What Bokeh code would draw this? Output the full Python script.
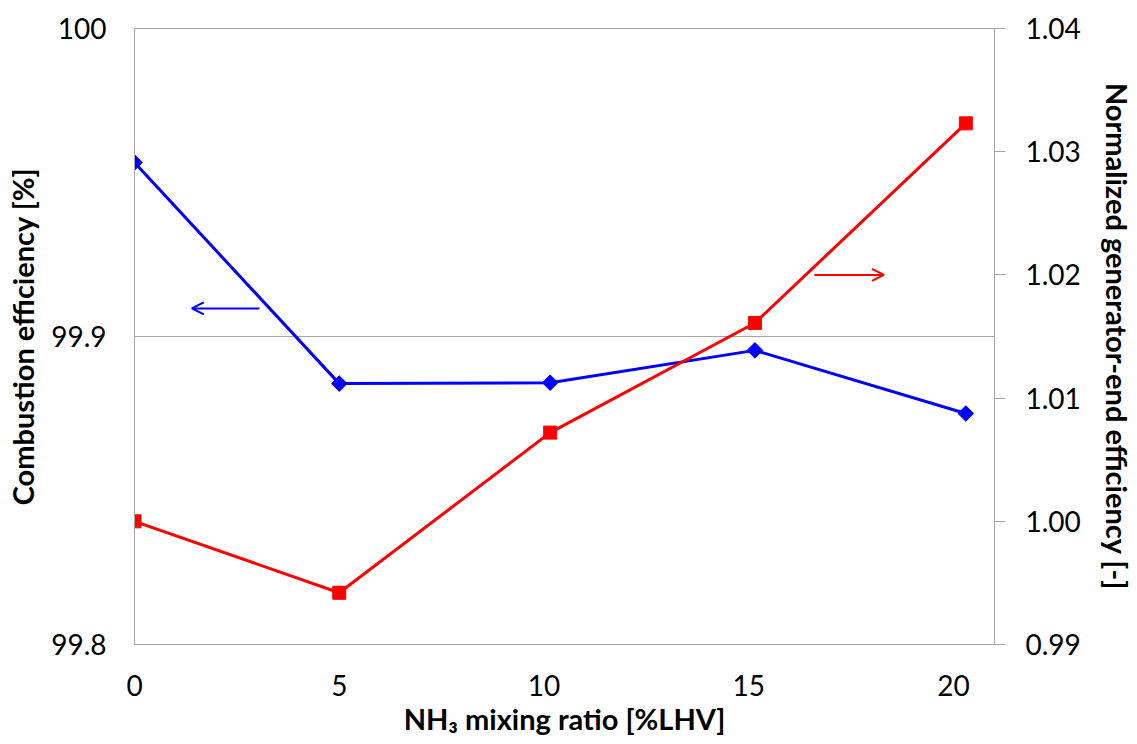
import math
from bokeh.plotting import figure
from bokeh.models import (Range1d, LinearAxis, FixedTicker, Arrow, OpenHead,
                          ColumnDataSource)
from bokeh.embed import file_html
from bokeh.resources import INLINE

# ---- data ----
nh3_ratio = [0, 5, 10.15, 15.15, 20.3]
combustion_eff = [99.9565, 99.8847, 99.8850, 99.8955, 99.8750]
gen_end_eff = [1.0000, 0.9942, 1.0072, 1.0161, 1.0323]

x_ticks = [0, 5, 10, 15, 20]
left_ticks = [99.8, 99.9, 100]
left_labels = {99.8: "99.8", 99.9: "99.9", 100: "100"}
right_ticks = [0.99, 1.00, 1.01, 1.02, 1.03, 1.04]

# arrows: (x_start, x_end, y) in data units of their own axis
blue_arrow = [3.05, 1.4, 99.9091]
red_arrow = [16.6, 18.3, 1.0200]

FONT = "Lato"
GRAY = "#a6a6a6"
LABEL_SIZE = "29px"

p = figure(width=1137, height=744, output_backend="svg", toolbar_location=None,
           x_range=Range1d(0, 21), y_range=Range1d(99.8, 100),
           min_border_left=134, min_border_right=138, min_border_top=28,
           min_border_bottom=100)
p.extra_y_ranges = {"right": Range1d(0.99, 1.04)}

p.background_fill_color = "white"
p.border_fill_color = "white"
p.outline_line_color = GRAY
p.outline_line_width = 1

p.xgrid.grid_line_color = None
p.ygrid.ticker = FixedTicker(ticks=left_ticks)
p.ygrid.grid_line_color = GRAY
p.ygrid.grid_line_width = 1

# bottom axis
xa = p.xaxis[0]
xa.ticker = FixedTicker(ticks=x_ticks)
xa.axis_line_color = GRAY
xa.major_tick_line_color = None
xa.minor_tick_line_color = None
xa.major_tick_out = 0
xa.major_label_standoff = 30
xa.major_label_text_font = FONT
xa.major_label_text_font_size = "28px"
xa.major_label_text_color = "black"
xa.axis_label = "NH\u2083 mixing ratio [%LHV]"
xa.axis_label_text_font = FONT
xa.axis_label_text_font_style = "bold"
xa.axis_label_text_font_size = LABEL_SIZE
xa.axis_label_text_color = "black"
xa.axis_label_standoff = 2

# left axis
ya = p.yaxis[0]
ya.ticker = FixedTicker(ticks=left_ticks)
ya.major_label_overrides = left_labels
ya.axis_line_color = GRAY
ya.major_tick_line_color = None
ya.minor_tick_line_color = None
ya.major_tick_out = 0
ya.major_label_standoff = 28
ya.major_label_text_font = FONT
ya.major_label_text_font_size = "28px"
ya.major_label_text_color = "black"
ya.axis_label = "Combustion efficiency [%]"
ya.axis_label_text_font = FONT
ya.axis_label_text_font_style = "bold"
ya.axis_label_text_font_size = LABEL_SIZE
ya.axis_label_text_color = "black"
ya.axis_label_standoff = 8

# right axis
ra = LinearAxis(y_range_name="right")
ra.ticker = FixedTicker(ticks=right_ticks)
ra.major_label_overrides = {t: f"{t:.2f}" for t in right_ticks}
ra.axis_line_color = GRAY
ra.major_tick_line_color = GRAY
ra.minor_tick_line_color = None
ra.major_tick_out = 11
ra.major_tick_in = 0
ra.major_label_standoff = 20
ra.major_label_text_font = FONT
ra.major_label_text_font_size = "28px"
ra.major_label_text_color = "black"
ra.axis_label = "Normalized generator-end efficiency [-]"
ra.axis_label_text_font = FONT
ra.axis_label_text_font_style = "bold"
ra.axis_label_text_font_size = LABEL_SIZE
ra.axis_label_text_color = "black"
ra.axis_label_standoff = 16
p.add_layout(ra, "right")

src = ColumnDataSource(dict(x=nh3_ratio, ce=combustion_eff, ge=gen_end_eff))

p.line("x", "ce", source=src, line_color="#0000ff", line_width=3)
p.scatter("x", "ce", source=src, marker="square", size=11, angle=math.pi / 4,
          fill_color="#0000ff", line_color="#0000ff")

p.line("x", "ge", source=src, line_color="#ff0000", line_width=3,
       y_range_name="right")
p.scatter("x", "ge", source=src, marker="square", size=13,
          fill_color="#ff0000", line_color="#ff0000", y_range_name="right")

p.add_layout(Arrow(x_start=blue_arrow[0], x_end=blue_arrow[1],
                   y_start=blue_arrow[2], y_end=blue_arrow[2],
                   line_color="#0000ff", line_width=2,
                   end=OpenHead(size=12, line_color="#0000ff", line_width=2)))
p.add_layout(Arrow(x_start=red_arrow[0], x_end=red_arrow[1],
                   y_start=red_arrow[2], y_end=red_arrow[2],
                   line_color="#ff0000", line_width=2, y_range_name="right",
                   end=OpenHead(size=12, line_color="#ff0000", line_width=2)))

open("out.html", "w").write(file_html(p, INLINE))
